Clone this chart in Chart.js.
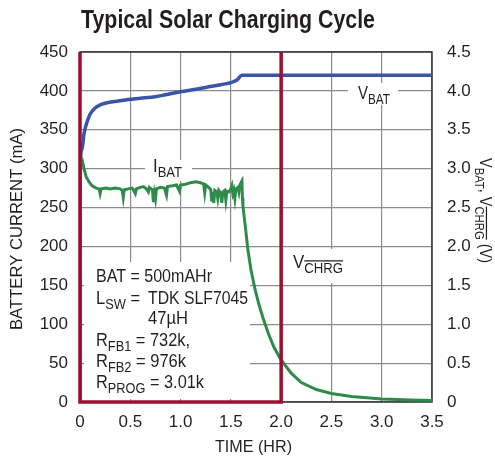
<!DOCTYPE html>
<html>
<head>
<meta charset="utf-8">
<script src="https://cdn.jsdelivr.net/npm/chart.js@4/dist/chart.umd.min.js"></script>
<style>
  html, body { margin: 0; padding: 0; background: #fff; }
</style>
</head>
<body>
<canvas id="chart" width="495" height="458"></canvas>
<script>
// time axis (hours) and tick values
const timeTicks = [0, 0.5, 1, 1.5, 2, 2.5, 3, 3.5];
const currentTicks = [0, 50, 100, 150, 200, 250, 300, 350, 400, 450];
const voltTicks = ['0', '0.5', '1.0', '1.5', '2.0', '2.5', '3.0', '3.5', '4.0', '4.5'];

// I_BAT (mA)
const ibatTime = [0, 0.002, 0.02, 0.04, 0.06, 0.09, 0.12, 0.16, 0.19, 0.2, 0.21, 0.26, 0.3, 0.35, 0.4, 0.42, 0.43, 0.44,
  0.48, 0.52, 0.55, 0.56, 0.6, 0.63, 0.66, 0.68, 0.69, 0.72, 0.73, 0.74, 0.75, 0.76, 0.8, 0.84, 0.86, 0.87, 0.92, 0.96,
  0.99, 1.0, 1.05, 1.1, 1.15, 1.2, 1.23, 1.24, 1.25, 1.28, 1.3, 1.31, 1.32, 1.33, 1.34, 1.36, 1.37, 1.38, 1.4, 1.41,
  1.42, 1.44, 1.45, 1.46, 1.48, 1.5, 1.51, 1.52, 1.53, 1.54, 1.55, 1.57, 1.58, 1.59, 1.61, 1.615, 1.62, 1.64, 1.67,
  1.7, 1.74, 1.78, 1.82, 1.87, 1.93, 2.0, 2.1, 2.2, 2.35, 2.5, 2.7, 3.0, 3.3, 3.5];
const ibatCurrent = [0, 316, 312, 300, 290, 283, 278, 275, 274, 268, 274, 275, 274, 275, 274, 272, 263, 273,
  274, 275, 268, 274, 276, 277, 274, 270, 276, 273, 257, 268, 261, 274, 276, 275, 266, 277, 278, 279,
  271, 279, 280, 282, 283, 282, 280, 269, 279, 276, 273, 258, 270, 256, 272, 270, 262, 272, 268, 256,
  270, 272, 260, 271, 270, 274, 278, 268, 272, 262, 274, 276, 270, 279, 284, 262, 252, 230, 195,
  170, 145, 125, 108, 89, 70, 54, 37, 25, 16, 11, 7, 4, 2.5, 2];

// V_BAT (V)
const vbatTime = [0, 0.003, 0.02, 0.04, 0.07, 0.1, 0.15, 0.2, 0.28, 0.38, 0.48, 0.6, 0.75, 0.85, 1.0, 1.15, 1.27, 1.4, 1.51, 1.56, 1.61, 3.5];
const vbatVolts = [0, 3.05, 3.25, 3.45, 3.6, 3.7, 3.78, 3.82, 3.85, 3.87, 3.89, 3.905, 3.925, 3.95, 3.99, 4.02, 4.05, 4.08, 4.11, 4.14, 4.2, 4.2];

// V_CHRG (V) - goes off scale when high
const vchrgTime = [0, 0, 2, 2];
const vchrgVolts = [4.8, 0, 0, 4.8];

const FONT = '"Liberation Sans", Arial, Helvetica, sans-serif';
const TEXT = '#231f20';

const pts = (xs, ys) => xs.map((x, i) => ({ x: x, y: ys[i] }));

// text with subscript / overline parts, squeezed to a width if given
function drawRich(ctx, parts, x, y, size, fitW, weight) {
  const w8 = weight ? weight + ' ' : '';
  const items = parts.map(p => {
    const fs = p.sub ? size * 0.78 : size;
    ctx.font = w8 + fs + 'px ' + FONT;
    return { p: p, fs: fs, w: ctx.measureText(p.t).width };
  });
  const total = items.reduce((s, it) => s + it.w, 0);
  const k = fitW ? fitW / total : 0.9;
  ctx.save();
  ctx.translate(x, y);
  ctx.scale(k, 1);
  let cx = 0;
  for (const it of items) {
    const dy = it.p.sub ? size * 0.28 : 0;
    ctx.font = w8 + it.fs + 'px ' + FONT;
    ctx.fillText(it.p.t, cx, dy);
    if (it.p.over) {
      ctx.lineWidth = 1.2;
      ctx.strokeStyle = TEXT;
      ctx.beginPath();
      ctx.moveTo(cx, dy - it.fs * 0.86);
      ctx.lineTo(cx + it.w, dy - it.fs * 0.86);
      ctx.stroke();
    }
    cx += it.w;
  }
  ctx.restore();
}

const labelPlugin = {
  id: 'labels',
  beforeDatasetsDraw(chart) {
    const ctx = chart.ctx;
    const a = chart.chartArea;
    ctx.save();
    // plot frame
    ctx.strokeStyle = '#333';
    ctx.lineWidth = 1.5;
    ctx.strokeRect(a.left, a.top, a.right - a.left, a.bottom - a.top);

    // white boxes behind labels
    ctx.fillStyle = '#fff';
    ctx.fillRect(145, 160, 47, 21);
    ctx.fillRect(348, 83, 50, 22);
    ctx.fillRect(284, 249, 66, 34);
    ctx.fillRect(84, 262, 166, 137);

    ctx.fillStyle = TEXT;
    ctx.textBaseline = 'alphabetic';
    ctx.textAlign = 'left';
    drawRich(ctx, [{ t: 'I' }, { t: 'BAT', sub: true }], 153, 172, 18, 29);
    drawRich(ctx, [{ t: 'V' }, { t: 'BAT', sub: true }], 358, 99, 18, 32);
    drawRich(ctx, [{ t: 'V' }, { t: 'CHRG', sub: true, over: true }], 293, 268, 18, 50);

    drawRich(ctx, [{ t: 'BAT = 500mAHr' }], 96, 282, 18, 116);
    drawRich(ctx, [{ t: 'L' }, { t: 'SW', sub: true }, { t: ' =' }], 96, 304, 18, 44);
    drawRich(ctx, [{ t: 'TDK SLF7045' }], 148, 304, 18, 100);
    drawRich(ctx, [{ t: '47µH' }], 148, 324, 18, 40);
    drawRich(ctx, [{ t: 'R' }, { t: 'FB1', sub: true }, { t: ' = 732k,' }], 96, 346, 18, 94);
    drawRich(ctx, [{ t: 'R' }, { t: 'FB2', sub: true }, { t: ' = 976k' }], 96, 367, 18, 90);
    drawRich(ctx, [{ t: 'R' }, { t: 'PROG', sub: true }, { t: ' = 3.01k' }], 96, 388, 18, 108);
    ctx.restore();
  },
  afterDraw(chart) {
    const ctx = chart.ctx;
    ctx.save();
    ctx.fillStyle = TEXT;
    ctx.textBaseline = 'alphabetic';
    ctx.textAlign = 'left';

    // title
    drawRich(ctx, [{ t: 'Typical Solar Charging Cycle' }], 81, 28, 25, 294, 'bold');

    // x axis title
    drawRich(ctx, [{ t: 'TIME (HR)' }], 215, 452, 16.5, 77);

    // left axis title
    ctx.save();
    ctx.translate(22, 330);
    ctx.rotate(-Math.PI / 2);
    drawRich(ctx, [{ t: 'BATTERY CURRENT (mA)' }], 0, 0, 16.5, 202);
    ctx.restore();

    // right axis title
    ctx.save();
    ctx.translate(480, 158);
    ctx.rotate(Math.PI / 2);
    drawRich(ctx, [{ t: 'V' }, { t: 'BAT', sub: true }, { t: ', V' }, { t: 'CHRG', sub: true, over: true }, { t: ' (V)' }], 0, 0, 16.5, 105);
    ctx.restore();
    ctx.restore();
  }
};

new Chart(document.getElementById('chart'), {
  type: 'line',
  data: {
    datasets: [
      {
        label: 'VCHRG',
        data: pts(vchrgTime, vchrgVolts),
        yAxisID: 'yV',
        borderColor: '#9b1032',
        borderWidth: 3.5,
        pointRadius: 0,
        tension: 0,
        clip: { left: 5, right: 5, top: 0, bottom: 5 }
      },
      {
        label: 'IBAT',
        data: pts(ibatTime, ibatCurrent),
        yAxisID: 'yI',
        borderColor: '#2e8b4a',
        borderWidth: 3,
        pointRadius: 0,
        tension: 0
      },
      {
        label: 'VBAT',
        data: pts(vbatTime, vbatVolts),
        yAxisID: 'yV',
        borderColor: '#3a55a8',
        borderWidth: 3.5,
        pointRadius: 0,
        cubicInterpolationMode: 'monotone'
      }
    ]
  },
  options: {
    responsive: false,
    animation: false,
    devicePixelRatio: 1,
    layout: { padding: { top: 52, left: 0, right: 0, bottom: 0 } },
    plugins: { legend: { display: false }, tooltip: { enabled: false } },
    scales: {
      x: {
        type: 'linear',
        min: 0,
        max: 3.5,
        afterBuildTicks: (s) => { s.ticks = timeTicks.map(v => ({ value: v })); },
        ticks: { color: TEXT, font: { family: FONT, size: 17 }, padding: 10, maxRotation: 0 },
        grid: { color: '#8c8c8c', lineWidth: 1.2, drawTicks: false },
        border: { display: false },
        afterFit: (s) => { s.height = 56; }
      },
      yI: {
        position: 'left',
        min: 0,
        max: 450,
        afterBuildTicks: (s) => { s.ticks = currentTicks.map(v => ({ value: v })); },
        ticks: { color: TEXT, font: { family: FONT, size: 17 }, padding: 12 },
        grid: { color: '#8c8c8c', lineWidth: 1.2, drawTicks: false },
        border: { display: false },
        afterFit: (s) => { s.width = 80; }
      },
      yV: {
        position: 'right',
        min: 0,
        max: 4.5,
        afterBuildTicks: (s) => { s.ticks = voltTicks.map(v => ({ value: parseFloat(v) })); },
        ticks: {
          color: TEXT,
          font: { family: FONT, size: 17 },
          padding: 15,
          callback: (v, i) => voltTicks[i]
        },
        grid: { display: false, drawTicks: false },
        border: { display: false },
        afterFit: (s) => { s.width = 63; }
      }
    }
  },
  plugins: [labelPlugin]
});
</script>
</body>
</html>
